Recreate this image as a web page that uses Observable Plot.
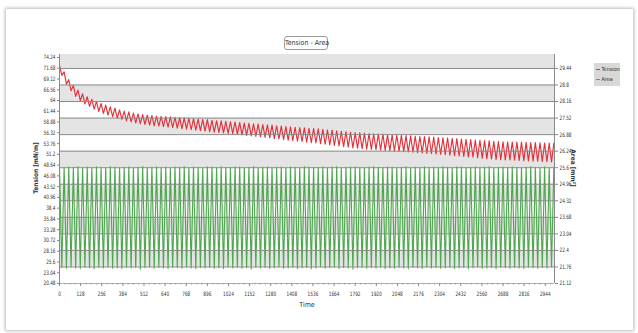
<!DOCTYPE html>
<html><head><meta charset="utf-8">
<script src="https://cdn.jsdelivr.net/npm/d3@7"></script>
<script src="https://cdn.jsdelivr.net/npm/@observablehq/plot@0.6"></script>
<style>
html,body{margin:0;padding:0;background:#fff;width:638px;height:333px;overflow:hidden;}
.nr{font-family:"Liberation Sans Narrow","DejaVu Sans Condensed","Liberation Sans",sans-serif;color:#333;}
#panel{position:absolute;left:6px;top:9px;width:627px;height:321px;background:#fff;box-shadow:0 0 3px 1px rgba(0,0,0,0.28);}
#chart{position:absolute;left:0;top:0;}
#title{position:absolute;left:284px;top:36px;width:42px;height:12px;border:1px solid #9c9c9c;border-radius:3px;font-size:7px;line-height:12px;text-align:center;background:#fff;white-space:nowrap;}
#legend{position:absolute;left:594px;top:63px;width:26px;height:23px;background:#d8d8d8;font-size:5.5px;}
.li{position:absolute;left:2px;white-space:nowrap;line-height:6px;}
.li span{display:inline-block;width:4px;height:0;border-top:1px solid;vertical-align:middle;margin-right:1.5px;}
.rot{position:absolute;white-space:nowrap;font-weight:bold;font-size:6.5px;}
</style>
</head><body>
<div id="panel"></div>
<div id="chart"></div>
<div id="title" class="nr"></div>
<div id="legend" class="nr"></div>
<div id="ylab" class="nr rot"></div>
<div id="y2lab" class="nr rot"></div>
<div id="xlab" class="nr" style="position:absolute;font-size:7px;white-space:nowrap;"></div>
<script>
// ---- data ----
const chartTitle = "Tension - Area";
const seriesNames = ["Tension", "Area"];
const xTitle = "Time";
const yTitle = "Tension [mN/m]";
const y2Title = "Area [mm²]";
const halfPeriod = 14; // time between a peak and the following trough

const tensionPeaks = [
72.4, 70.8, 69.0, 67.6, 66.5, 65.6, 64.9, 64.3, 63.8, 63.3,
62.9, 62.5, 62.2, 61.8, 61.5, 61.3, 61.0, 60.8, 60.65, 60.5,
60.4, 60.3, 60.25, 60.2, 60.1, 60.0, 59.95, 59.9, 59.8, 59.7,
59.6, 59.5, 59.45, 59.3, 59.2, 59.15, 59.05, 58.95, 58.9, 58.75,
58.65, 58.6, 58.45, 58.4, 58.3, 58.2, 58.15, 58.0, 57.9, 57.8,
57.75, 57.65, 57.55, 57.5, 57.4, 57.35, 57.25, 57.15, 57.0, 56.95,
56.8, 56.65, 56.6, 56.45, 56.35, 56.3, 56.25, 56.15, 56.1, 56.05,
56.0, 55.9, 55.85, 55.8, 55.7, 55.65, 55.6, 55.5, 55.45, 55.4,
55.35, 55.3, 55.2, 55.15, 55.1, 55.0, 54.95, 54.85, 54.8, 54.7,
54.6, 54.55, 54.45, 54.4, 54.3, 54.25, 54.2, 54.15, 54.15, 54.1,
54.1, 54.05, 54.0, 54.0, 53.95, 53.9, 53.9, 53.85
];
const tensionTroughs = [
70.0, 67.9, 66.3, 65.0, 64.0, 63.2, 62.6, 61.95, 61.4, 60.95,
60.55, 60.15, 59.8, 59.5, 59.15, 58.9, 58.7, 58.5, 58.3, 58.15,
58.0, 57.9, 57.8, 57.7, 57.55, 57.45, 57.3, 57.2, 57.05, 56.95,
56.85, 56.7, 56.6, 56.5, 56.4, 56.3, 56.2, 56.1, 55.95, 55.85,
55.7, 55.6, 55.45, 55.35, 55.25, 55.1, 54.95, 54.85, 54.7, 54.6,
54.45, 54.35, 54.25, 54.1, 54.0, 53.9, 53.75, 53.6, 53.45, 53.3,
53.2, 53.05, 52.9, 52.75, 52.65, 52.55, 52.45, 52.4, 52.3, 52.2,
52.15, 52.05, 52.0, 51.9, 51.85, 51.75, 51.7, 51.6, 51.55, 51.45,
51.4, 51.3, 51.2, 51.1, 51.0, 50.9, 50.8, 50.7, 50.6, 50.5,
50.4, 50.3, 50.2, 50.1, 50.0, 49.95, 49.9, 49.85, 49.8, 49.75,
49.7, 49.65, 49.6, 49.55, 49.5, 49.45, 49.4
];
const areaPeaks = [
25.62, 25.60, 25.63, 25.61, 25.64, 25.60, 25.62, 25.59, 25.63, 25.61,
25.60, 25.64, 25.62, 25.60, 25.61, 25.63, 25.59, 25.62, 25.64, 25.60,
25.61, 25.63, 25.60, 25.62, 25.58, 25.63, 25.61, 25.64, 25.60, 25.62,
25.61, 25.59, 25.63, 25.62, 25.60, 25.64, 25.61, 25.60, 25.63, 25.62,
25.59, 25.61, 25.64, 25.60, 25.62, 25.63, 25.60, 25.61, 25.62, 25.59,
25.63, 25.61, 25.60, 25.64, 25.62, 25.60, 25.61, 25.63, 25.59, 25.62,
25.64, 25.60, 25.61, 25.62, 25.63, 25.60, 25.59, 25.62, 25.64, 25.61,
25.60, 25.63, 25.62, 25.60, 25.61, 25.64, 25.59, 25.62, 25.60, 25.63,
25.61, 25.62, 25.60, 25.64, 25.61, 25.59, 25.63, 25.62, 25.60, 25.61,
25.63, 25.60, 25.62, 25.64, 25.59, 25.61, 25.62, 25.60, 25.63, 25.61,
25.60, 25.62, 25.64, 25.61, 25.59, 25.63, 25.60, 25.62
];
const areaTroughs = [
21.74, 21.71, 21.76, 21.72, 21.70, 21.75, 21.73, 21.69, 21.74, 21.72,
21.76, 21.71, 21.73, 21.70, 21.75, 21.72, 21.74, 21.68, 21.73, 21.76,
21.71, 21.74, 21.72, 21.70, 21.75, 21.73, 21.71, 21.76, 21.72, 21.69,
21.74, 21.72, 21.75, 21.71, 21.73, 21.70, 21.76, 21.72, 21.74, 21.71,
21.73, 21.68, 21.75, 21.72, 21.74, 21.70, 21.73, 21.76, 21.71, 21.72,
21.75, 21.70, 21.73, 21.74, 21.69, 21.72, 21.76, 21.71, 21.73, 21.75,
21.70, 21.74, 21.72, 21.68, 21.73, 21.75, 21.71, 21.74, 21.72, 21.76,
21.70, 21.73, 21.71, 21.75, 21.72, 21.69, 21.74, 21.73, 21.70, 21.76,
21.72, 21.74, 21.71, 21.73, 21.75, 21.70, 21.72, 21.74, 21.69, 21.73,
21.76, 21.71, 21.72, 21.74, 21.70, 21.75, 21.73, 21.71, 21.74, 21.72,
21.70, 21.75, 21.73, 21.71, 21.74, 21.72, 21.76
];

const xTicks = [0,128,256,384,512,640,768,896,1024,1152,1280,1408,1536,1664,1792,1920,2048,2176,2304,2432,2560,2688,2816,2944];
const xMinorTicks = [32,64,96,160,192,224,288,320,352,416,448,480,544,576,608,672,704,736,800,832,864,928,960,992,1056,1088,1120,1184,1216,1248,1312,1344,1376,1440,1472,1504,1568,1600,1632,1696,1728,1760,1824,1856,1888,1952,1984,2016,2080,2112,2144,2208,2240,2272,2336,2368,2400,2464,2496,2528,2592,2624,2656,2720,2752,2784,2848,2880,2912,2976];
const leftTicks = [20.48,23.04,25.6,28.16,30.72,33.28,35.84,38.4,40.96,43.52,46.08,48.64,51.2,53.76,56.32,58.88,61.44,64,66.56,69.12,71.68,74.24];
const rightTicks = [21.12,21.76,22.4,23.04,23.68,24.32,24.96,25.6,26.24,26.88,27.52,28.16,28.8,29.44];
const xDomain = [0, 3000];
const tDomain = [20.48, 74.95];
const aDomain = [21.12, 29.98];

// ---- build tables ----
const toT = a => tDomain[0] + (a - aDomain[0]) * (tDomain[1] - tDomain[0]) / (aDomain[1] - aDomain[0]);
const fromT = t => aDomain[0] + (t - tDomain[0]) * (aDomain[1] - aDomain[0]) / (tDomain[1] - tDomain[0]);
function interleave(peaks, troughs) {
  const rows = [];
  for (let k = 0; k < peaks.length; k++) {
    rows.push({time: 2 * k * halfPeriod, v: peaks[k]});
    if (k < troughs.length) rows.push({time: (2 * k + 1) * halfPeriod, v: troughs[k]});
  }
  return rows;
}
const tension = interleave(tensionPeaks, tensionTroughs);
const area = interleave(areaPeaks, areaTroughs).map(d => ({time: d.time, v: toT(d.v)}));
const bands = [];
for (let i = 1; i < rightTicks.length; i += 2) {
  bands.push({y1: toT(rightTicks[i]), y2: i + 1 < rightTicks.length ? toT(rightTicks[i + 1]) : tDomain[1]});
}
const rightPos = rightTicks.map(toT);

const chart = Plot.plot({
  width: 638, height: 333,
  marginLeft: 59, marginRight: 84, marginTop: 54, marginBottom: 50,
  x: {domain: xDomain},
  y: {domain: tDomain},
  style: {fontFamily: '"Liberation Sans Narrow","DejaVu Sans Condensed","Liberation Sans",sans-serif', fontSize: "6px", background: "transparent", color: "#333"},
  marks: [
    Plot.rect(bands, {x1: () => xDomain[0], x2: () => xDomain[1], y1: "y1", y2: "y2", fill: "#e4e4e4"}),
    Plot.line(area, {x: "time", y: "v", stroke: "#4fa84f", strokeWidth: 1.15}),
    Plot.line(tension, {x: "time", y: "v", stroke: "#e5303a", strokeWidth: 1.15}),
    Plot.ruleY(rightPos, {stroke: "#8a8a8a", strokeWidth: 1}),
    Plot.ruleY([tDomain[0]], {stroke: "#b0b0b0", strokeWidth: 1.2}),
    Plot.ruleX([xDomain[0]], {stroke: "#8a8a8a"}),
    Plot.ruleX([xDomain[1]], {stroke: "#8a8a8a"}),
    Plot.axisY(leftTicks, {anchor: "left", tickSize: 2, tickPadding: 2, tickFormat: d => String(d), label: null, stroke: "#888"}),
    Plot.axisY(rightPos, {anchor: "right", tickSize: 3, tickPadding: 2, tickFormat: d => String(+fromT(d).toFixed(2)), label: null, stroke: "#888"}),
    Plot.axisX(xTicks, {anchor: "bottom", tickSize: 3, tickPadding: 5, tickFormat: d => String(d), label: null, stroke: "#888"}),
    Plot.axisX(xMinorTicks, {anchor: "bottom", tickSize: 1.5, tickFormat: () => "", label: null, stroke: "#999"})
  ]
});
document.getElementById("chart").appendChild(chart);
// squeeze tick labels horizontally like the narrow reference font
chart.querySelectorAll("text").forEach(t => {
  const w = t.getComputedTextLength();
  if (w > 0) { t.setAttribute("textLength", (w * 0.78).toFixed(2)); t.setAttribute("lengthAdjust", "spacingAndGlyphs"); }
});

document.getElementById("title").textContent = chartTitle;
const legendColors = ["#e5303a", "#4fa84f"];
const lg = document.getElementById("legend");
seriesNames.forEach((n, i) => {
  const d = document.createElement("div");
  d.className = "li";
  d.style.top = (3 + i * 10) + "px";
  d.innerHTML = `<span style="border-color:${legendColors[i]}"></span>${n}`;
  lg.appendChild(d);
});
const yl = document.getElementById("ylab");
yl.textContent = yTitle;
yl.style.left = "36px"; yl.style.top = "168px";
yl.style.transform = "translate(-50%,-50%) rotate(-90deg)";
const y2l = document.getElementById("y2lab");
y2l.textContent = y2Title;
y2l.style.left = "573px"; y2l.style.top = "168px";
y2l.style.transform = "translate(-50%,-50%) rotate(90deg)";
const xl = document.getElementById("xlab");
xl.textContent = xTitle;
xl.style.left = "307px"; xl.style.top = "305px";
xl.style.transform = "translate(-50%,-50%)";
</script>
</body></html>
